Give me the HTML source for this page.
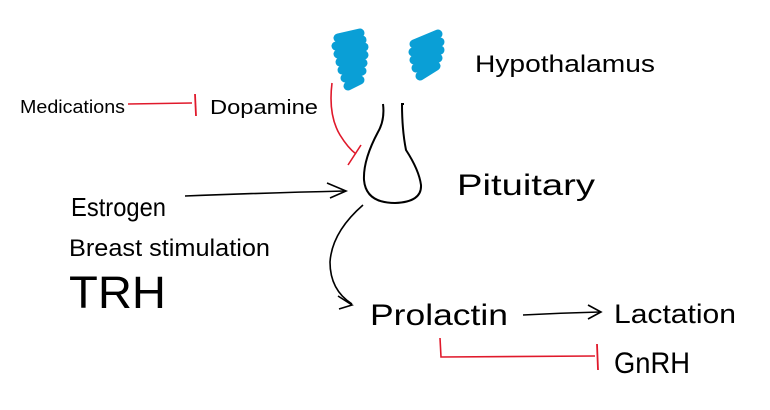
<!DOCTYPE html>
<html><head><meta charset="utf-8"><style>
html,body{margin:0;padding:0;background:#fff;}
svg{display:block}
text{font-family:"Liberation Sans",sans-serif;fill:#000;font-weight:normal}
</style></head><body>
<svg width="770" height="410" viewBox="0 0 770 410" xmlns="http://www.w3.org/2000/svg">
<!-- hypothalamus blobs -->
<path d="M338,38 L360,33 M336,46 L362,40 M338,54 L364,47 M340,62 L364,55 M342,70 L363,63 M345,78 L362,71 M348,86 L360,80" stroke="#0a9fd6" stroke-width="9" stroke-linecap="round"/>
<path d="M414,44 L438,34 M413,52 L440,42 M414,60 L440,50 M416,68 L438,58 M420,76 L436,66" stroke="#0a9fd6" stroke-width="9" stroke-linecap="round"/>
<!-- pituitary -->
<path d="M383,104 Q385,120 378,132 Q363,160 364,180 Q366,203 395,203 Q422,202 421,185 Q419,170 406,150 Q402,130 402,104 L404,104" fill="none" stroke="#000" stroke-width="2"/>
<!-- red dopamine inhibition -->
<path d="M332,83 Q328,115 340,135 Q348,148 356,154" fill="none" stroke="#e0192b" stroke-width="1.6"/>
<path d="M348,165 L361,145" stroke="#e0192b" stroke-width="1.6"/>
<!-- medications -->
<path d="M128,104 L192,103" stroke="#e0192b" stroke-width="1.6"/>
<path d="M195,94 L196,116" stroke="#e0192b" stroke-width="1.8"/>
<!-- estrogen arrow -->
<path d="M185,196 Q260,193 345,191" fill="none" stroke="#000" stroke-width="1.6"/>
<path d="M327,183 L346,191 L330,198" fill="none" stroke="#000" stroke-width="1.6"/>
<!-- pituitary to prolactin -->
<path d="M363,205 Q332,232 330,262 Q330,290 352,304" fill="none" stroke="#000" stroke-width="1.6"/>
<path d="M338,296 L352,305 L339,309" fill="none" stroke="#000" stroke-width="1.6"/>
<!-- prolactin to lactation -->
<path d="M523,315 Q560,313 600,312" fill="none" stroke="#000" stroke-width="1.6"/>
<path d="M588,305 L601,312 L588,319" fill="none" stroke="#000" stroke-width="1.6"/>
<!-- prolactin inhibits GnRH -->
<path d="M440,338 L441,357 L595,356" fill="none" stroke="#e0192b" stroke-width="1.6"/>
<path d="M597,344 L598,370" stroke="#e0192b" stroke-width="1.8"/>
<!-- labels -->
<text x="475" y="72" font-size="24" textLength="180" lengthAdjust="spacingAndGlyphs">Hypothalamus</text>
<text x="20" y="113" font-size="18" textLength="105" lengthAdjust="spacingAndGlyphs">Medications</text>
<text x="210" y="114" font-size="20" textLength="108" lengthAdjust="spacingAndGlyphs">Dopamine</text>
<text x="457" y="195" font-size="30" textLength="138" lengthAdjust="spacingAndGlyphs">Pituitary</text>
<text x="71" y="216" font-size="26" textLength="95" lengthAdjust="spacingAndGlyphs">Estrogen</text>
<text x="69" y="256" font-size="24" textLength="201" lengthAdjust="spacingAndGlyphs">Breast stimulation</text>
<text x="69" y="308" font-size="45" textLength="97" lengthAdjust="spacingAndGlyphs">TRH</text>
<text x="370" y="325" font-size="30" textLength="138" lengthAdjust="spacingAndGlyphs">Prolactin</text>
<text x="614" y="323" font-size="27" textLength="122" lengthAdjust="spacingAndGlyphs">Lactation</text>
<text x="614" y="373" font-size="30" textLength="76" lengthAdjust="spacingAndGlyphs">GnRH</text>
</svg>
</body></html>
